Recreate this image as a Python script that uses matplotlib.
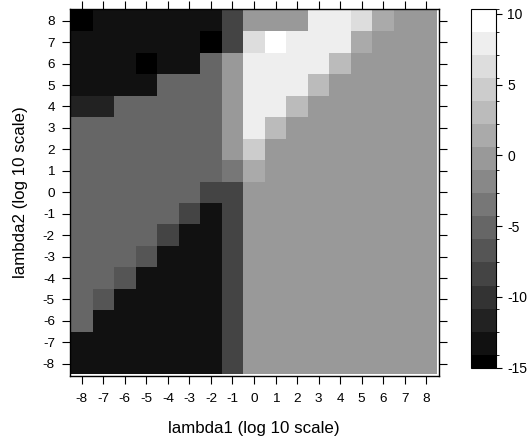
import numpy as np
import matplotlib
matplotlib.use("Agg")
import matplotlib.pyplot as plt
from matplotlib.colors import ListedColormap, BoundaryNorm

plt.rcParams['font.family'] = ['Liberation Sans', 'DejaVu Sans']
plt.rcParams['axes.unicode_minus'] = False

lambda1 = list(range(-8, 9))
lambda2 = list(range(-8, 9))

# estimated cell values, rows listed from lambda2 = 8 (top) down to -8
z_rows = [
    [-15.0, -13.3, -13.3, -13.3, -13.3, -13.3, -13.3, -8.4, -0.2, -0.2, -0.2, 7.9, 7.9, 6.3, 1.4, -0.2, -0.2],
    [-13.3, -13.3, -13.3, -13.3, -13.3, -13.3, -15.0, -8.4, 6.3, 10.3, 7.9, 7.9, 7.9, 1.4, -0.2, -0.2, -0.2],
    [-13.3, -13.3, -13.3, -15.0, -13.3, -13.3, -5.1, -0.2, 7.9, 7.9, 7.9, 7.9, 3.0, -0.2, -0.2, -0.2, -0.2],
    [-13.3, -13.3, -13.3, -13.3, -5.1, -5.1, -5.1, -0.2, 7.9, 7.9, 7.9, 3.0, -0.2, -0.2, -0.2, -0.2, -0.2],
    [-11.6, -11.6, -5.1, -5.1, -5.1, -5.1, -5.1, -0.2, 7.9, 7.9, 3.0, -0.2, -0.2, -0.2, -0.2, -0.2, -0.2],
    [-5.1, -5.1, -5.1, -5.1, -5.1, -5.1, -5.1, -0.2, 7.9, 3.0, -0.2, -0.2, -0.2, -0.2, -0.2, -0.2, -0.2],
    [-5.1, -5.1, -5.1, -5.1, -5.1, -5.1, -5.1, -0.2, 4.6, -0.2, -0.2, -0.2, -0.2, -0.2, -0.2, -0.2, -0.2],
    [-5.1, -5.1, -5.1, -5.1, -5.1, -5.1, -5.1, -3.5, 1.4, -0.2, -0.2, -0.2, -0.2, -0.2, -0.2, -0.2, -0.2],
    [-5.1, -5.1, -5.1, -5.1, -5.1, -5.1, -8.4, -8.4, -0.2, -0.2, -0.2, -0.2, -0.2, -0.2, -0.2, -0.2, -0.2],
    [-5.1, -5.1, -5.1, -5.1, -5.1, -8.4, -13.3, -8.4, -0.2, -0.2, -0.2, -0.2, -0.2, -0.2, -0.2, -0.2, -0.2],
    [-5.1, -5.1, -5.1, -5.1, -8.4, -13.3, -13.3, -8.4, -0.2, -0.2, -0.2, -0.2, -0.2, -0.2, -0.2, -0.2, -0.2],
    [-5.1, -5.1, -5.1, -6.8, -13.3, -13.3, -13.3, -8.4, -0.2, -0.2, -0.2, -0.2, -0.2, -0.2, -0.2, -0.2, -0.2],
    [-5.1, -5.1, -6.8, -13.3, -13.3, -13.3, -13.3, -8.4, -0.2, -0.2, -0.2, -0.2, -0.2, -0.2, -0.2, -0.2, -0.2],
    [-5.1, -6.8, -13.3, -13.3, -13.3, -13.3, -13.3, -8.4, -0.2, -0.2, -0.2, -0.2, -0.2, -0.2, -0.2, -0.2, -0.2],
    [-5.1, -13.3, -13.3, -13.3, -13.3, -13.3, -13.3, -8.4, -0.2, -0.2, -0.2, -0.2, -0.2, -0.2, -0.2, -0.2, -0.2],
    [-13.3, -13.3, -13.3, -13.3, -13.3, -13.3, -13.3, -8.4, -0.2, -0.2, -0.2, -0.2, -0.2, -0.2, -0.2, -0.2, -0.2],
    [-13.3, -13.3, -13.3, -13.3, -13.3, -13.3, -13.3, -8.4, -0.2, -0.2, -0.2, -0.2, -0.2, -0.2, -0.2, -0.2, -0.2],
]

# colour key breaks
breaks = [-15.05, -14.09, -12.46, -10.83, -9.20, -7.57, -5.93, -4.30, -2.67,
          -1.04, 0.57, 2.20, 3.83, 5.44, 7.09, 8.72, 10.33]
key_ticks = [-15, -10, -5, 0, 5, 10]

z = np.array(z_rows[::-1])  # flip so row 0 is lambda2 = -8

greys = [str(v) for v in np.linspace(0, 1, 16)]
cmap = ListedColormap(greys)
norm = BoundaryNorm(breaks, cmap.N)

fig = plt.figure(figsize=(5.28, 4.43), dpi=100)
ax = fig.add_axes([69.5/528, 67/443, 369/528, 367.5/443])

xe = np.arange(lambda1[0] - 0.5, lambda1[-1] + 1)
ye = np.arange(lambda2[0] - 0.5, lambda2[-1] + 1)
mesh = ax.pcolormesh(xe, ye, z, cmap=cmap, norm=norm)

# small white margin between cells and frame, as in lattice
ax.set_xlim(xe[0] - 0.07, xe[-1] + 0.07)
ax.set_ylim(ye[0] - 0.07, ye[-1] + 0.07)
ax.set_xticks(lambda1)
ax.set_yticks(lambda2)
ax.tick_params(direction='out', length=5.5, width=0.8, labelsize=9.7,
               top=True, right=True, labeltop=False, labelright=False)
ax.tick_params(axis='x', pad=7)
ax.tick_params(axis='y', pad=5)
ax.set_xlabel('lambda1 (log 10 scale)', fontsize=12.2, labelpad=11)
ax.set_ylabel('lambda2 (log 10 scale)', fontsize=12.2, labelpad=10.5)
for s in ax.spines.values():
    s.set_linewidth(1.0)

cax = fig.add_axes([471/528, 74.7/443, 25/528, 359/443])
cb = fig.colorbar(mesh, cax=cax, ticks=key_ticks, spacing='proportional')
cb.ax.tick_params(direction='out', length=4, width=0.8, labelsize=10, pad=4)
cb.outline.set_linewidth(0.8)

fig.savefig('out.png', dpi=100)
